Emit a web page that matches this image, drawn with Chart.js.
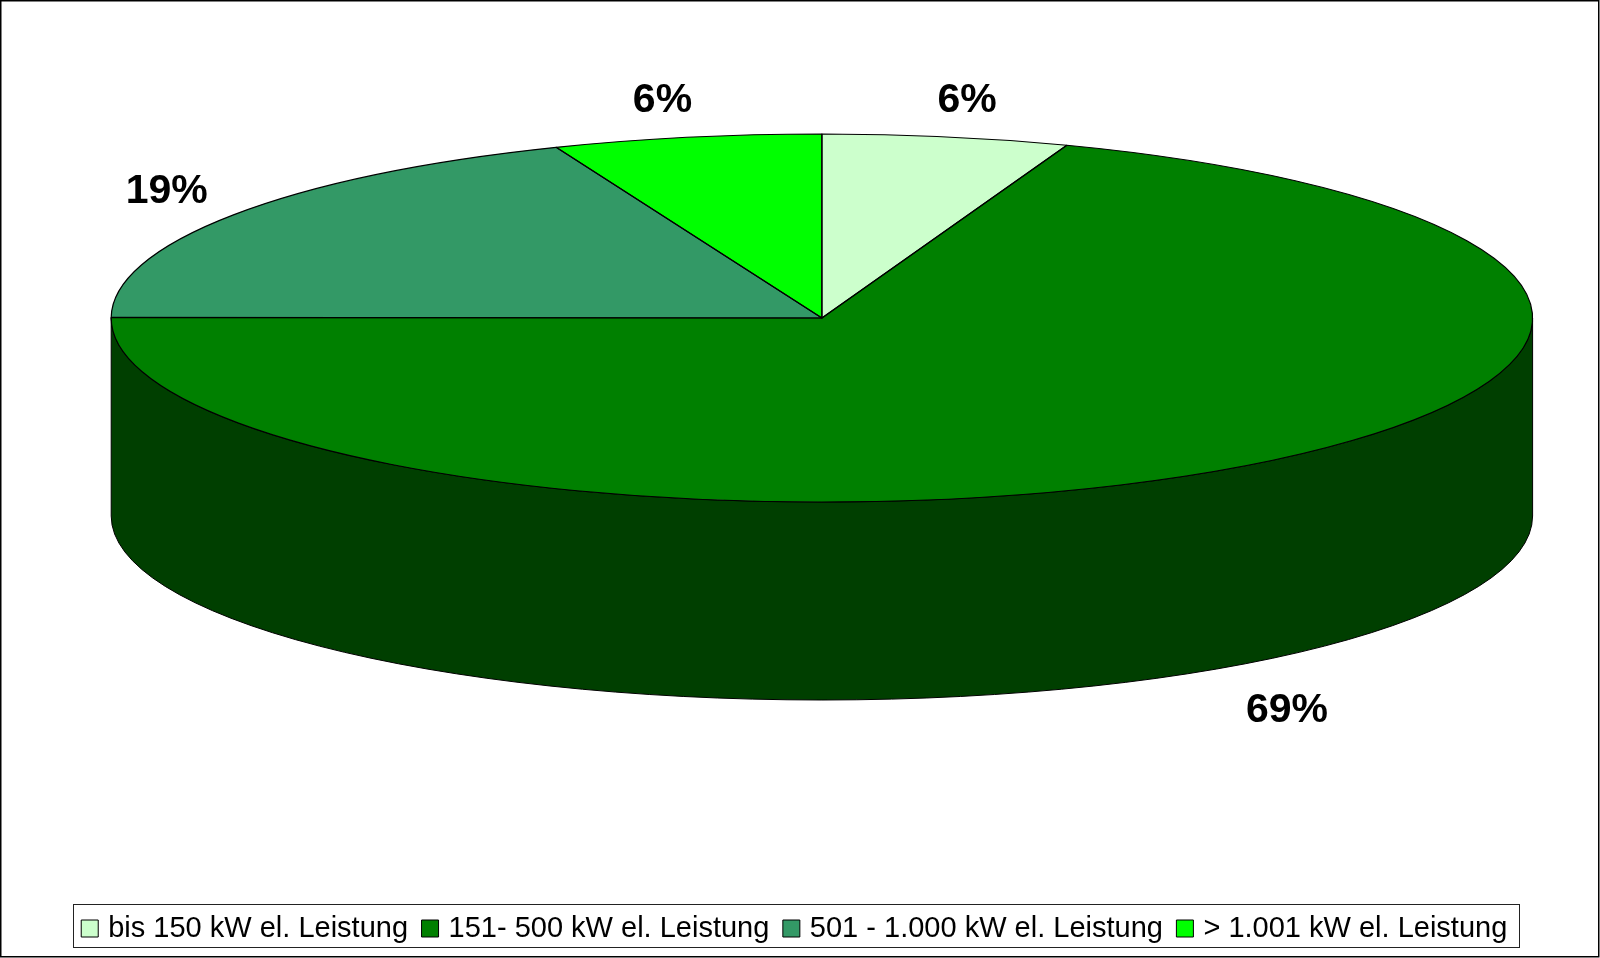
<!DOCTYPE html>
<html>
<head>
<meta charset="utf-8">
<title>Leistungsklassen</title>
<script src="https://cdn.jsdelivr.net/npm/chart.js@4/dist/chart.umd.min.js"></script>
<style>
  html, body { margin: 0; padding: 0; background: #fff; }
  canvas { display: block; }
</style>
</head>
<body>
<canvas id="pie3d" width="1600" height="958"></canvas>
<script>
// --- DATA ---
const categories = ['bis 150 kW el. Leistung', '151- 500 kW el. Leistung', '501 - 1.000 kW el. Leistung', '> 1.001 kW el. Leistung'];
const shares = [5.6, 69.45, 18.85, 6.1];
const sliceColors = ['#ccffcc', '#008000', '#339966', '#00ff00'];
const sideColors = ['#668066', '#003f00', '#1a4d33', '#008000'];

// --- LOOK OF THE TILTED PIE ---
const pieLook = { cx: 821.9, cy: 318, rx: 710.7, ry: 184, depth: 198 };
const labelRing = 1.2;
const labelNudge = [[-4, 0], [-22, 13], [51, -2], [3, -1]];

// lower half only: that is the part of the wall you can see
function drawWalls(ctx, arcs) {
    const { cx, cy, rx, ry, depth } = pieLook;
    arcs.forEach((arc, i) => {
        const from = Math.max(arc.startAngle, 0);
        const to = Math.min(arc.endAngle, Math.PI);
        if (from >= to) return;
        ctx.beginPath();
        ctx.ellipse(cx, cy, rx, ry, 0, from, to);
        ctx.ellipse(cx, cy + depth, rx, ry, 0, to, from, true);
        ctx.closePath();
        ctx.fillStyle = sideColors[i];
        ctx.fill();
        ctx.strokeStyle = '#000';
        ctx.lineWidth = 1;
        ctx.stroke();
    });
}

function outlineTop(ctx, arcs) {
    const { cx, cy, rx, ry } = pieLook;
    ctx.strokeStyle = '#000';
    ctx.lineWidth = 1.2;
    ctx.lineJoin = 'round';
    arcs.forEach(arc => {
        ctx.beginPath();
        ctx.moveTo(cx, cy);
        ctx.ellipse(cx, cy, rx, ry, 0, arc.startAngle, arc.endAngle);
        ctx.closePath();
        ctx.stroke();
    });
}

function drawPercents(ctx, arcs) {
    const { cx, cy, rx, ry, depth } = pieLook;
    ctx.font = 'bold 41px "Liberation Sans"';
    ctx.fillStyle = '#000';
    ctx.textAlign = 'center';
    ctx.textBaseline = 'middle';
    arcs.forEach((arc, i) => {
        const mid = (arc.startAngle + arc.endAngle) / 2;
        const below = Math.sin(mid) > 0 ? depth : 0;
        const x = cx + rx * labelRing * Math.cos(mid) + labelNudge[i][0];
        const y = cy + ry * labelRing * Math.sin(mid) + below + labelNudge[i][1];
        ctx.fillText(Math.round(shares[i]) + '%', x, y);
    });
}

const tiltPlugin = {
    id: 'tilt',
    beforeDraw(chart) {
        const ctx = chart.ctx;
        ctx.save();
        ctx.fillStyle = '#fff';
        ctx.fillRect(0, 0, chart.width, chart.height);
        ctx.strokeStyle = '#000';
        ctx.lineWidth = 1.5;
        ctx.strokeRect(0.75, 0.75, chart.width - 2, chart.height - 2);
        ctx.restore();
    },
    beforeDatasetsDraw(chart) {
        const ctx = chart.ctx;
        const arcs = chart.getDatasetMeta(0).data;
        drawWalls(ctx, arcs);
        // chart.js draws the circle, we only squash it into the ellipse
        const first = arcs[0];
        ctx.save();
        ctx.translate(pieLook.cx, pieLook.cy);
        ctx.scale(pieLook.rx / first.outerRadius, pieLook.ry / first.outerRadius);
        ctx.translate(-first.x, -first.y);
    },
    afterDatasetsDraw(chart) {
        const ctx = chart.ctx;
        const arcs = chart.getDatasetMeta(0).data;
        ctx.restore();
        ctx.save();
        outlineTop(ctx, arcs);
        drawPercents(ctx, arcs);
        ctx.restore();
    },
    afterDraw(chart) {
        // frame around the legend, from where the legend really put its items
        const boxes = chart.legend.legendHitBoxes;
        const left = Math.min(...boxes.map(b => b.left));
        const last = boxes[boxes.length - 1];
        const ctx = chart.ctx;
        ctx.save();
        ctx.strokeStyle = '#222';
        ctx.lineWidth = 1;
        ctx.strokeRect(Math.round(left - 12.5) + 0.5, 904.5, Math.round(last.left + last.width - left + 24), 43);
        ctx.restore();
    }
};

// --- CHART ---
const chart = new Chart(document.getElementById('pie3d').getContext('2d'), {
    type: 'pie',
    plugins: [tiltPlugin],
    data: {
        labels: categories,
        datasets: [{
            data: shares,
            backgroundColor: sliceColors,
            borderWidth: 0,
            clip: false
        }]
    },
    options: {
        responsive: false,
        animation: false,
        layout: { padding: { left: 0, right: 7, top: 0, bottom: 5 } },
        plugins: {
            tooltip: { enabled: false },
            legend: {
                position: 'bottom',
                labels: {
                    font: { family: '"Liberation Sans"', size: 29 },
                    color: '#000',
                    usePointStyle: true,
                    pointStyle: 'rect',
                    boxWidth: 8,
                    boxHeight: 17,
                    padding: 18,
                    generateLabels(c) {
                        return Chart.overrides.doughnut.plugins.legend.labels.generateLabels(c)
                            .map(item => ({ ...item, lineWidth: 1, strokeStyle: '#000' }));
                    }
                }
            }
        }
    }
});
</script>
</body>
</html>
